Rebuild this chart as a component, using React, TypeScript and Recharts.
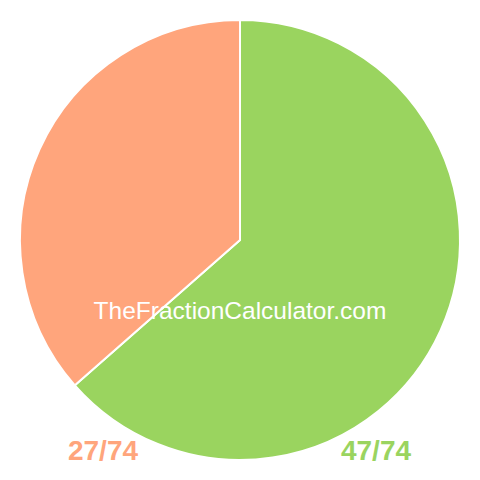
import React from "react";
import { PieChart, Pie, Cell } from "recharts";

const names = ["47/74", "27/74"];
const values = [47, 27];
const colors = ["#9AD45F", "#FFA57C"];

const data = names.map((n, i) => ({ name: n, value: values[i] }));

export default function App() {
  return (
    <div style={{ position: "absolute", left: 0, top: 0, width: 480, height: 480, fontFamily: "'Liberation Sans', Arial, sans-serif" }}>
      <PieChart width={480} height={480} margin={{ top: 0, right: 0, bottom: 0, left: 0 }}>
        <Pie
          data={data}
          dataKey="value"
          nameKey="name"
          cx={240}
          cy={240}
          outerRadius={220}
          startAngle={90}
          endAngle={-270}
          stroke="#ffffff"
          strokeWidth={2}
          isAnimationActive={false}
        >
          {data.map((d, i) => (
            <Cell key={d.name} fill={colors[i]} />
          ))}
        </Pie>
      </PieChart>
      <div style={{ position: "absolute", left: 0, top: 296, width: 480, textAlign: "center", color: "#ffffff", fontSize: 24.5, lineHeight: "30px" }}>
        TheFractionCalculator.com
      </div>
      <div style={{ position: "absolute", left: 3, top: 434, width: 200, textAlign: "center", color: colors[1], fontSize: 28, fontWeight: "bold", lineHeight: "34px" }}>
        {names[1]}
      </div>
      <div style={{ position: "absolute", left: 276, top: 434, width: 200, textAlign: "center", color: colors[0], fontSize: 28, fontWeight: "bold", lineHeight: "34px" }}>
        {names[0]}
      </div>
    </div>
  );
}
